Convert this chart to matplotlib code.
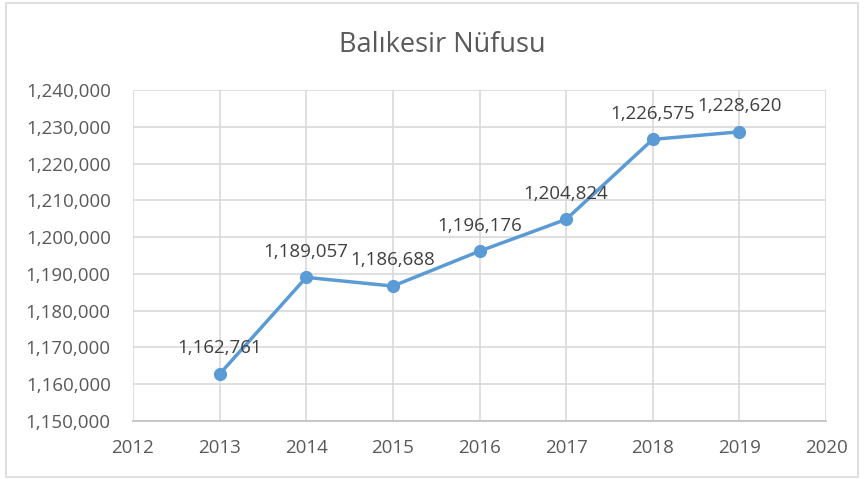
import matplotlib
matplotlib.use("Agg")
import matplotlib.pyplot as plt
from matplotlib.ticker import FuncFormatter, MultipleLocator
from matplotlib.patches import Rectangle

years = [2013, 2014, 2015, 2016, 2017, 2018, 2019]
population = [1162761, 1189057, 1186688, 1196176, 1204824, 1226575, 1228620]
title = "Balıkesir Nüfusu"

plt.rcParams['font.family'] = ['Open Sans', 'DejaVu Sans']

fig = plt.figure(figsize=(8.66, 4.79), dpi=100)
ax = fig.add_axes([133/866, 1-421/479, (826-133)/866, (421-90)/479])

grid_c = '#d9d9d9'
text_c = '#595959'
line_c = '#5b9bd5'

ax.plot(years, population, color=line_c, lw=2.5, marker='o', ms=8.5, zorder=3)
for x, y in zip(years, population):
    ax.annotate(f"{y:,}", (x, y), xytext=(0, 12), textcoords='offset points',
                ha='center', va='bottom', fontsize=13.5, color='#404040')

ax.set_xlim(2012, 2020)
ax.set_ylim(1150000, 1240000)
ax.xaxis.set_major_locator(MultipleLocator(1))
ax.yaxis.set_major_locator(MultipleLocator(10000))
ax.yaxis.set_major_formatter(FuncFormatter(lambda v, p: f"{int(v):,}"))
ax.grid(True, color=grid_c, lw=1.2)
ax.set_axisbelow(True)
for s in ['top', 'right', 'left']:
    ax.spines[s].set_visible(False)
ax.spines['bottom'].set_color('#bfbfbf')
ax.spines['bottom'].set_linewidth(1.2)
ax.tick_params(length=0, labelsize=13.5, colors=text_c)
ax.tick_params(axis='y', pad=16)
ax.tick_params(axis='x', pad=13)

fig.text(442/866, 1-45/479, title, ha='center', va='center', fontsize=19.5, color=text_c)

fig.patches.append(Rectangle((6/866, 2/479), 852/866, 474/479, transform=fig.transFigure,
                             fill=False, edgecolor=grid_c, lw=1.2))

fig.savefig('out.png', dpi=100)
